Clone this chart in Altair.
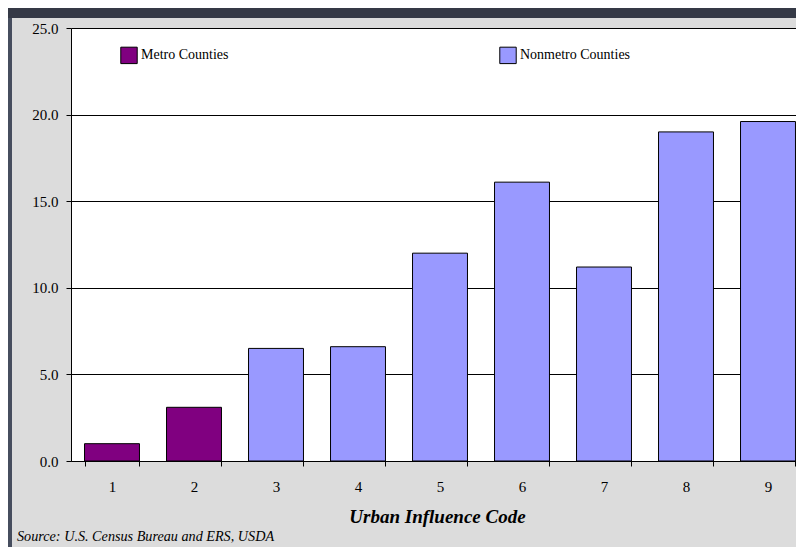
import altair as alt
import pandas as pd

codes = ["1", "2", "3", "4", "5", "6", "7", "8", "9"]
values = [1.0, 3.1, 6.5, 6.6, 12.0, 16.1, 11.2, 19.0, 19.6]
groups = ["Metro Counties", "Metro Counties"] + ["Nonmetro Counties"] * 7
group_names = ["Metro Counties", "Nonmetro Counties"]
group_colors = ["#800080", "#9999FF"]
y_ticks = [0, 5, 10, 15, 20, 25]
x_title = "Urban Influence Code"
source_text = "Source: U.S. Census Bureau and ERS, USDA"

df = pd.DataFrame({"code": codes, "value": values, "group": groups})

W, H = 725, 433
SERIF = "Liberation Serif"
DARK_TOP = "#353946"
DARK_LEFT = "#464d5e"

blank = alt.Data(values=[{"a": 1}])

top_strip = alt.Chart(blank).mark_rect(color=DARK_TOP).encode(
    x=alt.value(-63), x2=alt.value(W), y=alt.value(-20), y2=alt.value(-10)
)
left_strip = alt.Chart(blank).mark_rect(color=DARK_LEFT).encode(
    x=alt.value(-63), x2=alt.value(-59), y=alt.value(-10), y2=alt.value(H + 90)
)

bars = alt.Chart(df).mark_bar(stroke="#000000", strokeWidth=1).encode(
    x=alt.X(
        "code:N",
        sort=codes,
        scale=alt.Scale(range=[0, 738], paddingInner=0.33, paddingOuter=0.165),
        axis=alt.Axis(
            title=x_title,
            tickBand="extent",
            labelAngle=0,
            grid=False,
            domainColor="#000000",
            domainWidth=1,
            tickColor="#000000",
            tickSize=5,
            labelFont=SERIF,
            labelFontSize=15,
            labelColor="#000000",
            labelBaseline="alphabetic",
            labelPadding=25,
            titleFont=SERIF,
            titleFontSize=19,
            titleFontWeight="bold",
            titleFontStyle="italic",
            titleColor="#000000",
            titleX=366,
            titleY=61,
            titleBaseline="alphabetic",
            titleAlign="center",
        ),
    ),
    y=alt.Y(
        "value:Q",
        scale=alt.Scale(domain=[0, 25], nice=False),
        axis=alt.Axis(
            title=None,
            values=y_ticks,
            format=".1f",
            grid=True,
            gridColor="#000000",
            gridWidth=1,
            domainColor="#000000",
            domainWidth=1,
            tickColor="#000000",
            tickSize=5,
            labelPadding=8,
            labelFont=SERIF,
            labelFontSize=15,
            labelColor="#000000",
        ),
    ),
    color=alt.Color(
        "group:N",
        scale=alt.Scale(domain=group_names, range=group_colors),
        legend=alt.Legend(
            title=None,
            orient="none",
            legendX=49,
            legendY=18,
            direction="horizontal",
            symbolType="square",
            symbolSize=270,
            symbolStrokeColor="#000000",
            symbolStrokeWidth=1,
            symbolOpacity=1,
            labelFont=SERIF,
            labelFontSize=14,
            labelColor="#000000",
            labelOffset=3,
            columnPadding=268,
            padding=0,
        ),
    ),
)

source = alt.Chart(alt.Data(values=[{"t": source_text}])).mark_text(
    align="left", baseline="alphabetic", font=SERIF, fontStyle="italic",
    fontSize=14.2, color="#000000"
).encode(x=alt.value(-54), y=alt.value(513), text="t:N")

chart = alt.layer(top_strip, left_strip, bars, source).properties(
    width=W,
    height=H,
    background="#DCDCDC",
    padding={"left": 63, "top": 20, "right": 0, "bottom": 86},
    autosize=alt.AutoSizeParams(type="none"),
).configure_view(fill="white", strokeOpacity=0)

chart.save("out.html", embed_options={"renderer": "svg", "actions": False})
